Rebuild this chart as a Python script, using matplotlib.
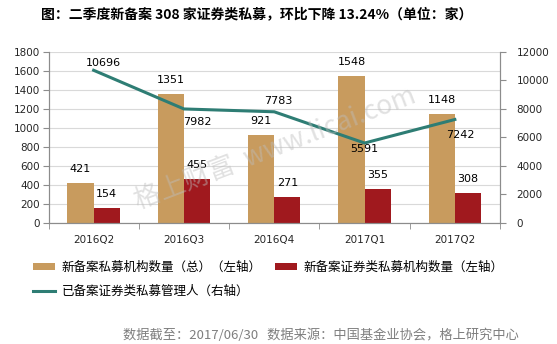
import numpy as np
import matplotlib.pyplot as plt

plt.rcParams['font.family'] = ['Noto Sans CJK SC', 'DejaVu Sans']

quarters = ['2016Q2', '2016Q3', '2016Q4', '2017Q1', '2017Q2']
total_new = [421, 1351, 921, 1548, 1148]
sec_new = [154, 455, 271, 355, 308]
sec_managers = [10696, 7982, 7783, 5591, 7242]

tan = '#C89B5E'
red = '#A0191E'
teal = '#2E7D74'
axcol = '#8C8C8C'

fig = plt.figure(figsize=(5.57, 3.44), dpi=100)
ax = fig.add_axes([48.5 / 557, 1 - 222.7 / 344, 451.5 / 557, 171 / 344])
ax2 = ax.twinx()

x = np.arange(len(quarters))
w = 0.29
ax.bar(x - w / 2, total_new, w, color=tan, label='新备案私募机构数量（总）（左轴）', zorder=2)
ax.bar(x + w / 2, sec_new, w, color=red, label='新备案证券类私募机构数量（左轴）', zorder=2)
ax2.plot(x, sec_managers, color=teal, lw=2.2, label='已备案证券类私募管理人（右轴）', zorder=3)

for i in range(len(x)):
    ax.annotate(str(total_new[i]), (x[i] - w / 2, total_new[i]), xytext=(0, 14),
                textcoords='offset pixels', ha='center', va='center', fontsize=8, family='DejaVu Sans')
    ax.annotate(str(sec_new[i]), (x[i] + w / 2, sec_new[i]), xytext=(0, 14),
                textcoords='offset pixels', ha='center', va='center', fontsize=8, family='DejaVu Sans')

# line labels: (dx, dy) in pixels
offs = [(10, 7), (13, -13), (4, 11), (0, -6), (5, -15)]
for i in range(len(x)):
    ax2.annotate(str(sec_managers[i]), (x[i], sec_managers[i]), xytext=offs[i],
                 textcoords='offset pixels', ha='center', va='center', fontsize=8,
                 family='DejaVu Sans', zorder=5)

ax.set_xlim(-0.5, 4.5)
ax.set_ylim(0, 1800)
ax.set_yticks(range(0, 1801, 200))
ax2.set_ylim(0, 12000)
ax2.set_yticks(range(0, 12001, 2000))
ax.set_xticks(x)
ax.set_xticklabels(quarters, family='DejaVu Sans')
ax.set_xticks(np.arange(-0.5, 5, 1), minor=True)
ax.tick_params(axis='x', which='major', length=0, pad=9, labelsize=7.5, labelcolor='#262626')
ax.tick_params(axis='x', which='minor', length=4, color=axcol)
ax.tick_params(axis='y', length=4, color=axcol, labelsize=7.5, labelcolor='#262626', pad=2)
ax2.tick_params(axis='y', length=4, color=axcol, labelsize=7.5, labelcolor='#262626', pad=8)
for lab in ax.get_yticklabels() + ax2.get_yticklabels():
    lab.set_family('DejaVu Sans')

ax.grid(axis='y', color='#D9D9D9', lw=0.8, zorder=0)
ax.set_axisbelow(True)
for a in (ax, ax2):
    a.spines['top'].set_visible(False)
    for s in ['left', 'right', 'bottom']:
        a.spines[s].set_color(axcol)

fig.text(257 / 557, 1 - 14 / 344, '图：二季度新备案 308 家证券类私募，环比下降 13.24%（单位：家）',
         ha='center', va='center', fontsize=10, fontweight='bold')

fig.text(275 / 557, 1 - 148 / 344, '格上财富  www.licai.com', rotation=21, ha='center', va='center',
         fontsize=19, color='#BDBDBD', alpha=0.45, zorder=10)

h1, l1 = ax.get_legend_handles_labels()
h2, l2 = ax2.get_legend_handles_labels()
fig.legend([h1[0], h2[0], h1[1]], [l1[0], l2[0], l1[1]], loc='upper left',
           bbox_to_anchor=(33 / 557, 1 - 261 / 344), borderaxespad=0, borderpad=0,
           ncol=2, frameon=False, fontsize=9, handlelength=1.75, handleheight=0.45,
           columnspacing=1.05, labelspacing=0.85, handletextpad=0.55)

fig.text(519 / 557, 1 - 335 / 344, '数据截至：2017/06/30   数据来源：中国基金业协会，格上研究中心',
         ha='right', va='center', fontsize=9.5, color='#7F7F7F')

fig.savefig('out.png', dpi=100)
